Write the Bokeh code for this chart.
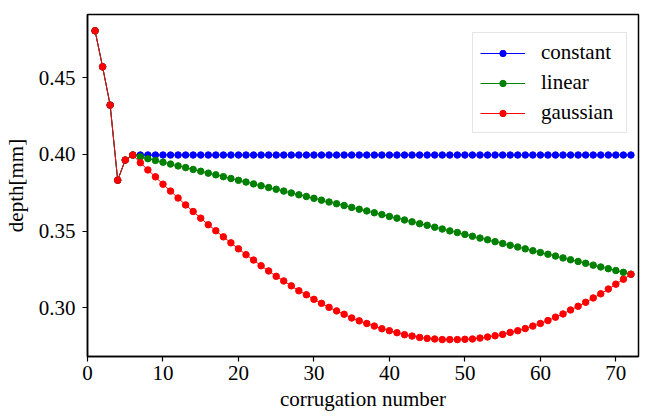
from bokeh.plotting import figure
from bokeh.models import Range1d, FixedTicker, Legend, LegendItem, NumeralTickFormatter
from bokeh.embed import file_html
from bokeh.resources import INLINE

corrugation = list(range(1, 73))

first_six = [0.4805, 0.4570, 0.4321, 0.3832, 0.3963, 0.3996]

constant = first_six + [0.3996] * 66

linear = first_six + [
    0.3984, 0.3972, 0.3961, 0.3949, 0.3937, 0.3925, 0.3914, 0.3902, 0.3890, 0.3878,
    0.3867, 0.3855, 0.3843, 0.3831, 0.3820, 0.3808, 0.3796, 0.3784, 0.3773, 0.3761,
    0.3749, 0.3737, 0.3726, 0.3714, 0.3702, 0.3690, 0.3679, 0.3667, 0.3655, 0.3643,
    0.3632, 0.3620, 0.3608, 0.3596, 0.3585, 0.3573, 0.3561, 0.3549, 0.3538, 0.3526,
    0.3514, 0.3502, 0.3491, 0.3479, 0.3467, 0.3455, 0.3444, 0.3432, 0.3420, 0.3408,
    0.3397, 0.3385, 0.3373, 0.3361, 0.3350, 0.3338, 0.3326, 0.3314, 0.3303, 0.3291,
    0.3279, 0.3267, 0.3256, 0.3244, 0.3232, 0.3220,
]

gaussian = first_six + [
    0.3946, 0.3899, 0.3854, 0.3806, 0.3761, 0.3716, 0.3671, 0.3628, 0.3585, 0.3542,
    0.3503, 0.3463, 0.3424, 0.3385, 0.3347, 0.3312, 0.3275, 0.3241, 0.3206, 0.3176,
    0.3144, 0.3112, 0.3086, 0.3056, 0.3030, 0.3004, 0.2981, 0.2959, 0.2935, 0.2916,
    0.2899, 0.2882, 0.2865, 0.2852, 0.2839, 0.2826, 0.2817, 0.2808, 0.2802, 0.2798,
    0.2794, 0.2794, 0.2794, 0.2796, 0.2798, 0.2804, 0.2811, 0.2819, 0.2828, 0.2841,
    0.2852, 0.2866, 0.2882, 0.2899, 0.2918, 0.2940, 0.2961, 0.2987, 0.3011, 0.3037,
    0.3065, 0.3092, 0.3123, 0.3155, 0.3187, 0.3219,
]

series_names = ["constant", "linear", "gaussian"]
series_colors = ["#0000ff", "#008000", "#ff0000"]
x_ticks = [0, 10, 20, 30, 40, 50, 60, 70]
y_ticks = [0.30, 0.35, 0.40, 0.45]

FONT = "Liberation Serif"

p = figure(width=646, height=415, output_backend="svg", toolbar_location=None,
           x_range=Range1d(0, 73), y_range=Range1d(0.2684, 0.4911),
           min_border_left=84, min_border_right=8, min_border_top=14, min_border_bottom=59)

p.xgrid.visible = False
p.ygrid.visible = False
p.outline_line_color = "black"
p.outline_line_width = 1.5
p.background_fill_color = "white"
p.border_fill_color = "white"

items = []
for name, color, ys in zip(series_names, series_colors, [constant, linear, gaussian]):
    r1 = p.line(corrugation, ys, line_color=color, line_width=1)
    r2 = p.scatter(corrugation, ys, size=6.5, fill_color=color, line_color=color)
    items.append(LegendItem(label=name, renderers=[r1, r2]))

for ax in (p.xaxis[0], p.yaxis[0]):
    ax.axis_line_color = "black"
    ax.axis_line_width = 1.5
    ax.major_tick_line_color = "black"
    ax.major_tick_line_width = 1.2
    ax.major_tick_out = 5
    ax.major_tick_in = 0
    ax.minor_tick_line_color = None
    ax.major_label_text_font = FONT
    ax.major_label_text_font_size = "21px"
    ax.major_label_text_color = "black"
    ax.axis_label_text_font = FONT
    ax.axis_label_text_font_size = "21px"
    ax.axis_label_text_font_style = "normal"
    ax.axis_label_text_color = "black"

p.xaxis[0].major_label_standoff = 4
p.xaxis[0].axis_label_standoff = 4
p.yaxis[0].major_label_standoff = 7
p.yaxis[0].axis_label_standoff = 8

p.xaxis[0].ticker = FixedTicker(ticks=x_ticks)
p.yaxis[0].ticker = FixedTicker(ticks=y_ticks)
p.yaxis[0].formatter = NumeralTickFormatter(format="0.00")
p.xaxis[0].axis_label = "corrugation number"
p.yaxis[0].axis_label = "depth[mm]"

legend = Legend(items=items, location=(385, 223))
legend.margin = 0
legend.padding = 7
legend.spacing = 5
legend.glyph_width = 45
legend.glyph_height = 16
legend.label_height = 24
legend.label_width = 78
legend.label_standoff = 16
legend.label_text_font = FONT
legend.label_text_font_size = "21px"
legend.label_text_color = "black"
legend.border_line_color = "#cccccc"
legend.border_line_width = 1.2
legend.background_fill_color = "white"
legend.background_fill_alpha = 0.8
p.add_layout(legend, "center")

open("out.html", "w").write(file_html(p, INLINE))
